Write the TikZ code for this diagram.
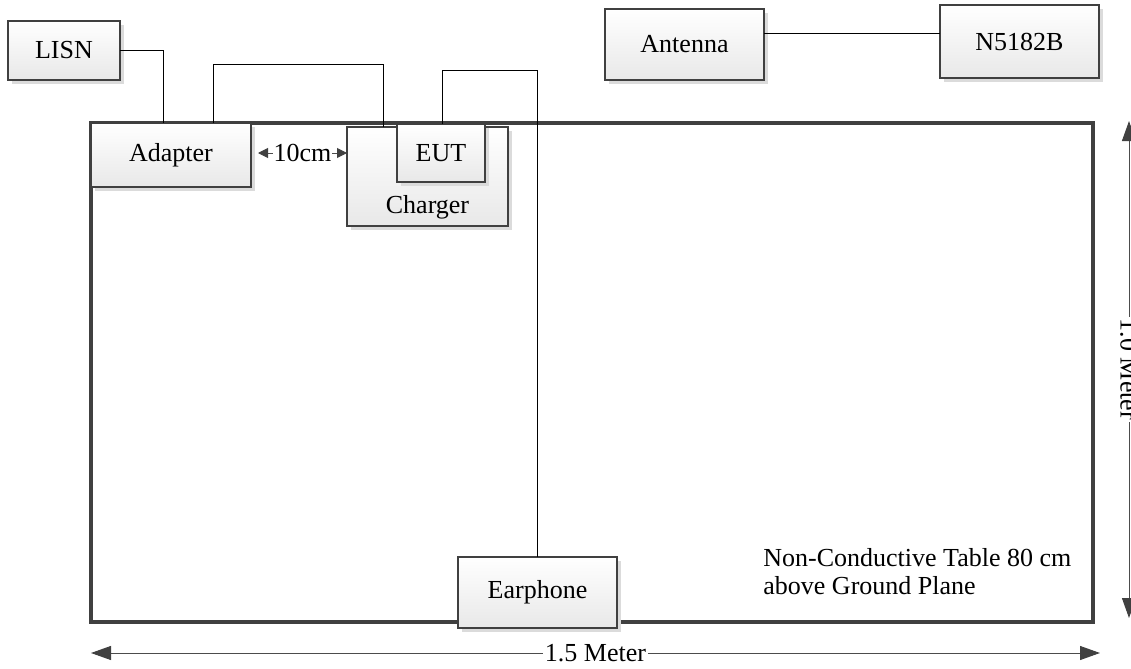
\documentclass[tikz,border=0pt]{standalone}
\usepackage{fontspec}
\setmainfont{Liberation Serif}
\usetikzlibrary{arrows.meta,shadows,calc}
\definecolor{edge}{HTML}{404040}
\tikzset{
  txt/.style={font=\fontsize{13}{14}\selectfont, inner sep=0pt},
  box/.style={draw=edge, line width=0.85pt, top color=white, bottom color=black!9,
    drop shadow={shadow xshift=2pt, shadow yshift=-2pt, fill=black!14, opacity=1},
    anchor=north west, inner sep=0pt, outer sep=0pt, font=\fontsize{13}{14}\selectfont},
  tablebox/.style={draw=edge, line width=1.65pt, anchor=north west, inner sep=0pt, outer sep=0pt},
  wire/.style={draw=black, line width=0.5pt},
  dimbig/.style={draw=black!70, line width=0.5pt, {Triangle[length=10pt,width=7pt,color=edge]}-{Triangle[length=10pt,width=7pt,color=edge]}},
  dimsmall/.style={draw=black!70, line width=0.5pt, {Triangle[length=5pt,width=5pt,color=edge]}-{Triangle[length=5pt,width=5pt,color=edge]}}
}
\begin{document}
\begin{tikzpicture}[x=0.5pt,y=-0.5pt]
\useasboundingbox (0,0) rectangle (1131,669);
% table
\node[tablebox, minimum width=501pt, minimum height=249.5pt] (table) at (91,123) {};
% boxes
\node[box, minimum width=56pt, minimum height=29.5pt] (lisn) at (8,21) {LISN};
\node[box, minimum width=80pt, minimum height=32pt] (adapter) at (91,123) {Adapter};
\node[box, minimum width=80.5pt, minimum height=49.5pt] (charger) at (347,127) {};
\node[txt] (chargerlabel) at ($(charger.south)+(0,-19)$) {Charger};
\node[box, minimum width=44pt, minimum height=29pt] (eut) at (397,124) {EUT};
\node[box, minimum width=79.5pt, minimum height=35.5pt] (earphone) at (458,557) {Earphone};
\node[box, minimum width=79.5pt, minimum height=35.5pt] (antenna) at (605,9) {Antenna};
\node[box, minimum width=79.5pt, minimum height=36.5pt] (n5182b) at (940,5) {N5182B};
% note
\node[txt, anchor=north west, align=left] (note) at (763,548) {Non-Conductive Table 80 cm\\above Ground Plane};
% wires
\draw[wire] (lisn.east) -| ($(adapter.north west)+(72,0)$);
\draw[wire] ($(adapter.north west)+(122,0)$) -- ++(0,-59) -| ($(charger.north west)+(36,0)$);
\draw[wire] ($(eut.north west)+(45,0)$) -- ++(0,-54) -| (earphone.north);
\draw[wire] ($(antenna.north east)+(0,24)$) -- ($(n5182b.north west)+(0,28)$);
% dimensions
\draw[dimsmall] ($(adapter.east)+(7,-2)$) -- ($(charger.west)+(0,-23.5)$)
  node[midway, fill=white, txt, inner sep=0.3pt] (tencm) {10cm};
\coordinate (hl) at ($(table.south west)+(0,31)$);
\coordinate (hr) at ($(table.south east)+(7,31)$);
\draw[dimbig] (hl) -- (hr) node[midway, fill=white, txt, inner sep=1pt] (w) {1.5 Meter};
\coordinate (vt) at ($(table.north east)+(36,-2)$);
\coordinate (vb) at ($(table.south east)+(36,-4)$);
\draw[dimbig] (vt) -- (vb) node[midway, fill=white, txt, inner sep=1pt, rotate=-90] (h) {1.0 Meter};
\end{tikzpicture}
\end{document}
